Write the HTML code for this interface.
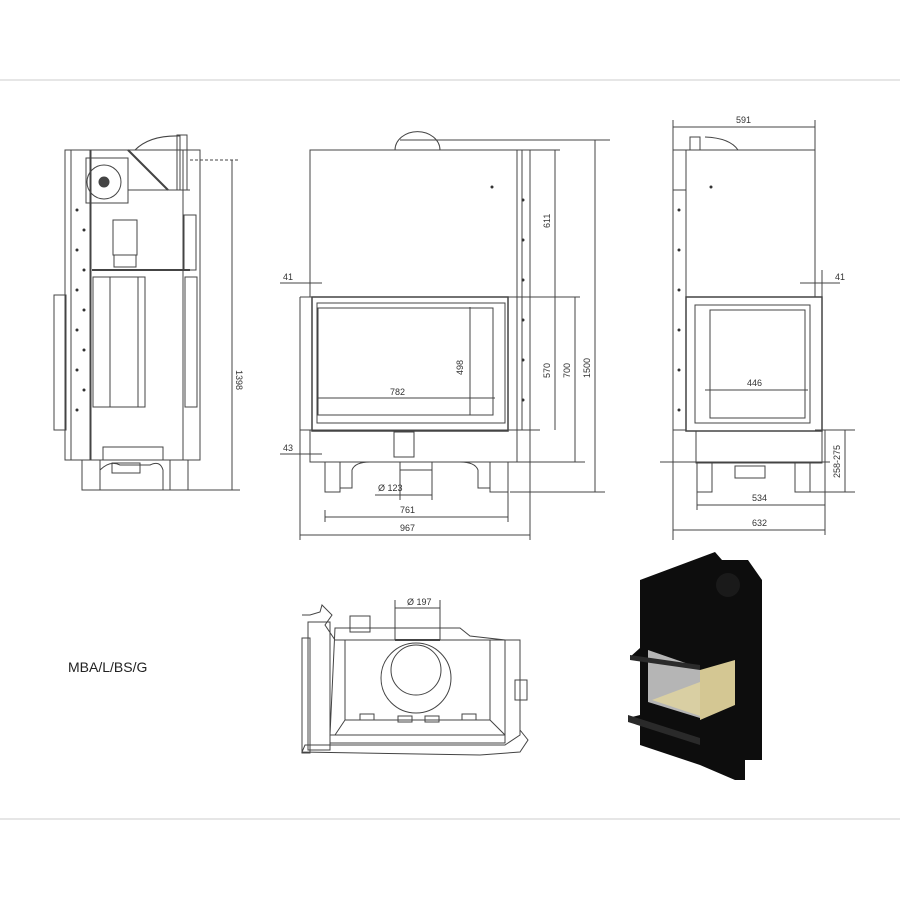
<!DOCTYPE html>
<html><head><meta charset="utf-8"><style>
html,body{margin:0;padding:0;background:#fff;}
svg{display:block;}
text{font-family:"Liberation Sans",sans-serif;font-size:9px;fill:#333;}
</style></head><body>
<svg width="900" height="900" viewBox="0 0 900 900" xmlns="http://www.w3.org/2000/svg">
<line x1="0" y1="80" x2="900" y2="80" stroke="#ddd" stroke-width="1.5"/>
<line x1="0" y1="819" x2="900" y2="819" stroke="#ddd" stroke-width="1.5"/>

<g stroke="#444" stroke-width="1" fill="none">
<!-- LEFT SIDE VIEW -->
<rect x="65" y="150" width="135" height="310"/>
<rect x="71" y="150" width="20" height="310"/>
<line x1="90" y1="150" x2="90" y2="460"/>
<rect x="54" y="295" width="12" height="135"/>
<rect x="86" y="158" width="42" height="45"/>
<circle cx="104" cy="182" r="17"/>
<circle cx="104" cy="182" r="5" fill="#444"/>
<path d="M135 150 Q150 135 180 136 L180 190 L135 190"/>
<rect x="177" y="135" width="10" height="55"/>
<line x1="128" y1="150" x2="168" y2="190" stroke-width="2"/>
<line x1="128" y1="190" x2="190" y2="190"/>
<rect x="113" y="220" width="24" height="35"/>
<rect x="114" y="255" width="22" height="12"/>
<rect x="184" y="215" width="12" height="55"/>
<line x1="92" y1="270" x2="190" y2="270" stroke-width="2"/>
<rect x="93" y="277" width="52" height="130"/>
<rect x="110" y="277" width="28" height="130"/>
<rect x="185" y="277" width="12" height="130"/>
<line x1="183" y1="150" x2="183" y2="460"/>
<rect x="103" y="447" width="60" height="13"/>
<path d="M100 490 L100 470 Q110 460 120 465 L150 465 Q160 460 163 470 L163 490"/>
<rect x="112" y="463" width="28" height="10"/>
<rect x="82" y="460" width="18" height="30"/>
<rect x="170" y="460" width="18" height="30"/>
<line x1="82" y1="490" x2="240" y2="490"/>
<line x1="190" y1="160" x2="240" y2="160" stroke-dasharray="3 2"/>
<line x1="232" y1="160" x2="232" y2="490"/>

<!-- FRONT VIEW -->
<rect x="310" y="150" width="207" height="147"/>
<path d="M395 150 A22 18 0 0 1 440 150"/>
<rect x="517" y="150" width="13" height="312"/>
<line x1="522" y1="150" x2="522" y2="430"/>
<line x1="300" y1="297" x2="580" y2="297"/>
<rect x="312" y="297" width="196" height="134" stroke-width="1.5"/>
<rect x="317" y="303" width="188" height="120"/>
<rect x="318" y="308" width="175" height="107"/>
<line x1="300" y1="430" x2="540" y2="430"/>
<rect x="310" y="430" width="207" height="32"/>
<rect x="394" y="432" width="20" height="25"/>
<path d="M340 462 L340 488 L352 488 L352 470 Q355 462 370 462"/>
<path d="M490 462 L490 488 L478 488 L478 470 Q475 462 460 462"/>
<rect x="325" y="462" width="15" height="30"/>
<rect x="490" y="462" width="18" height="30"/>
<rect x="400" y="462" width="32" height="8"/>
<line x1="400" y1="470" x2="400" y2="500"/><line x1="432" y1="470" x2="432" y2="500"/>
<line x1="400" y1="140" x2="610" y2="140"/>
<line x1="530" y1="150" x2="560" y2="150"/>
<line x1="555" y1="150" x2="555" y2="430"/>
<line x1="575" y1="297" x2="575" y2="462"/>
<line x1="517" y1="462" x2="585" y2="462"/>
<line x1="595" y1="140" x2="595" y2="492"/>
<line x1="510" y1="492" x2="605" y2="492"/>
<line x1="325" y1="510" x2="325" y2="522"/><line x1="508" y1="492" x2="508" y2="522"/>
<line x1="325" y1="517" x2="508" y2="517"/>
<line x1="300" y1="297" x2="300" y2="540"/><line x1="530" y1="462" x2="530" y2="540"/>
<line x1="300" y1="535" x2="530" y2="535"/>
<line x1="375" y1="495" x2="432" y2="495"/>
<line x1="318" y1="398" x2="495" y2="398"/>
<line x1="470" y1="307" x2="470" y2="415"/>
<line x1="280" y1="283" x2="322" y2="283"/>
<line x1="280" y1="454" x2="322" y2="454"/>

<!-- RIGHT VIEW -->
<rect x="686" y="150" width="129" height="147"/>
<line x1="673" y1="150" x2="815" y2="150"/>
<rect x="673" y="190" width="13" height="240"/>
<path d="M690 150 L690 137 L700 137 L700 150 M705 137 Q730 138 738 150"/>
<line x1="673" y1="120" x2="673" y2="540"/><line x1="815" y1="120" x2="815" y2="297"/>
<line x1="673" y1="127" x2="815" y2="127"/>
<rect x="686" y="297" width="136" height="134" stroke-width="1.5"/>
<rect x="695" y="305" width="115" height="118"/>
<rect x="710" y="310" width="95" height="108"/>
<line x1="705" y1="390" x2="808" y2="390"/>
<line x1="800" y1="283" x2="840" y2="283"/>
<line x1="822" y1="270" x2="822" y2="297"/>
<rect x="696" y="431" width="126" height="32"/>
<line x1="660" y1="462" x2="830" y2="462"/>
<rect x="697" y="462" width="15" height="30"/>
<rect x="795" y="462" width="15" height="30"/>
<rect x="735" y="466" width="30" height="12"/>
<line x1="815" y1="430" x2="855" y2="430"/><line x1="810" y1="492" x2="855" y2="492"/>
<line x1="845" y1="430" x2="845" y2="492"/>
<line x1="697" y1="492" x2="697" y2="510"/><line x1="825" y1="430" x2="825" y2="535"/>
<line x1="697" y1="505" x2="825" y2="505"/>
<line x1="673" y1="530" x2="825" y2="530"/>

<!-- PLAN VIEW -->
<path d="M302 615 L310 615 L320 612 L322 605 L332 615 L325 625 L335 640 L520 640 L520 735 L505 745 L305 745 L302 752 L480 755 L520 752 L528 740 L520 730"/>
<rect x="302" y="638" width="8" height="115"/>
<rect x="308" y="622" width="22" height="128"/>
<path d="M335 628 L460 628 L470 636 L505 640 L505 735 L330 735 Z"/>
<rect x="330" y="735" width="175" height="8"/>
<path d="M345 640 L345 720 L335 735 M490 640 L490 720 L505 735 M345 720 L490 720"/>
<rect x="350" y="616" width="20" height="16"/>
<rect x="515" y="680" width="12" height="20"/>
<circle cx="416" cy="678" r="35"/>
<circle cx="416" cy="670" r="25"/>
<line x1="395" y1="640" x2="440" y2="640" stroke-width="2"/>
<line x1="395" y1="600" x2="395" y2="640"/><line x1="440" y1="600" x2="440" y2="640"/>
<line x1="395" y1="608" x2="440" y2="608"/>
<rect x="360" y="714" width="14" height="6"/><rect x="398" y="716" width="14" height="6"/><rect x="425" y="716" width="14" height="6"/><rect x="462" y="714" width="14" height="6"/>
</g>

<!-- bolt dots -->
<g fill="#333">
<circle cx="77" cy="210" r="1.5"/><circle cx="77" cy="250" r="1.5"/><circle cx="77" cy="290" r="1.5"/><circle cx="77" cy="330" r="1.5"/><circle cx="77" cy="370" r="1.5"/><circle cx="77" cy="410" r="1.5"/>
<circle cx="84" cy="230" r="1.5"/><circle cx="84" cy="270" r="1.5"/><circle cx="84" cy="310" r="1.5"/><circle cx="84" cy="350" r="1.5"/><circle cx="84" cy="390" r="1.5"/>
<circle cx="523" cy="200" r="1.5"/><circle cx="523" cy="240" r="1.5"/><circle cx="523" cy="280" r="1.5"/><circle cx="523" cy="320" r="1.5"/><circle cx="523" cy="360" r="1.5"/><circle cx="523" cy="400" r="1.5"/>
<circle cx="679" cy="210" r="1.5"/><circle cx="679" cy="250" r="1.5"/><circle cx="679" cy="290" r="1.5"/><circle cx="679" cy="330" r="1.5"/><circle cx="679" cy="370" r="1.5"/><circle cx="679" cy="410" r="1.5"/>
<circle cx="492" cy="187" r="1.5"/><circle cx="711" cy="187" r="1.5"/>
</g>

<!-- 3D render -->
<g>
<polygon points="640,580 715,552 722,560 748,560 762,580 762,760 745,760 745,780 735,780 700,765 640,745 640,725 628,718 640,715 640,660 630,657 640,648" fill="#0d0d0d"/>
<polygon points="648,650 700,668 700,718 648,702" fill="#b5b5b5"/>
<polygon points="652,700 700,716 735,702 700,682" fill="#d9cfa3"/>
<polygon points="700,670 735,660 735,705 700,720" fill="#d4c793"/>
<polygon points="630,655 700,665 700,670 630,660" fill="#2a2a2a"/>
<polygon points="628,715 700,738 700,745 628,722" fill="#2a2a2a"/>
<circle cx="728" cy="585" r="12" fill="#1a1a1a"/>
</g>

<g>
<text x="68" y="672" style="font-size:14px;fill:#222">MBA/L/BS/G</text>
<text x="236" y="370" transform="rotate(90 236 370)">1398</text>
<text x="283" y="280">41</text>
<text x="283" y="451">43</text>
<text x="390" y="395">782</text>
<text x="463" y="375" transform="rotate(-90 463 375)">498</text>
<text x="550" y="228" transform="rotate(-90 550 228)">611</text>
<text x="550" y="378" transform="rotate(-90 550 378)">570</text>
<text x="570" y="378" transform="rotate(-90 570 378)">700</text>
<text x="590" y="378" transform="rotate(-90 590 378)">1500</text>
<text x="378" y="491">Ø 123</text>
<text x="400" y="513">761</text>
<text x="400" y="531">967</text>
<text x="736" y="123">591</text>
<text x="835" y="280">41</text>
<text x="747" y="386">446</text>
<text x="840" y="478" transform="rotate(-90 840 478)">258-275</text>
<text x="752" y="501">534</text>
<text x="752" y="526">632</text>
<text x="407" y="605">Ø 197</text>
</g>
</svg>
</body></html>
